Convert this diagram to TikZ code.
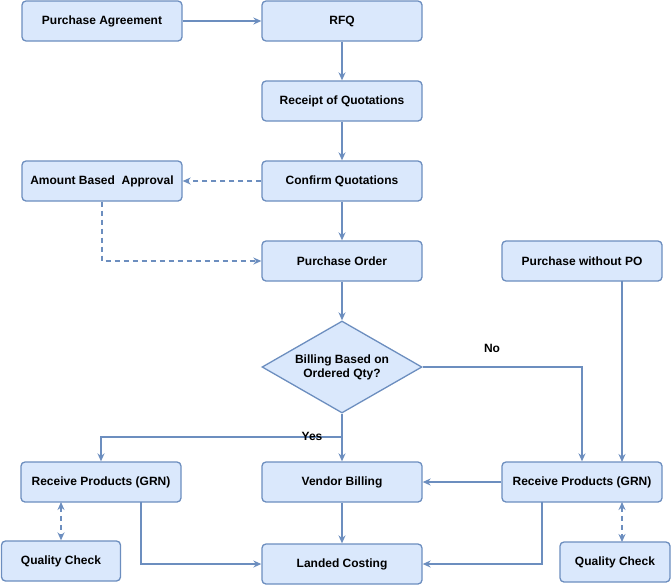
\documentclass[tikz,border=0pt]{standalone}
\usepackage{fontspec}
\setmainfont{Liberation Sans}
\usetikzlibrary{shapes.geometric,arrows.meta}
\definecolor{bfill}{HTML}{DAE8FC}
\definecolor{bline}{HTML}{6C8EBF}
\begin{document}
\begin{tikzpicture}[x=1pt,y=-1pt,
 box/.style={draw=bline,fill=bfill,line width=1.3pt,rounded corners=4pt,minimum width=160pt,minimum height=40pt,font=\fontsize{12}{14}\selectfont\bfseries,align=center,inner sep=0pt},
 arr/.style={draw=bline,line width=1.3pt,-{Stealth[length=8pt,width=7pt]}},
 dsh/.style={arr,dash pattern=on 5pt off 4pt},
 lbl/.style={font=\fontsize{12}{14}\selectfont\bfseries}]
\useasboundingbox (0,0) rectangle (671,584);
\node[box] (pa) at (102,21) {Purchase Agreement};
\node[box] (rfq) at (342,21) {RFQ};
\node[box] (rq) at (342,101) {Receipt of Quotations};
\node[box] (cq) at (342,181) {Confirm Quotations};
\node[box] (aba) at (102,181) {Amount Based\ \ Approval};
\node[box] (po) at (342,261) {Purchase Order};
\node[box] (pwp) at (582,261) {Purchase without PO};
\node[draw=bline,fill=bfill,line width=1.3pt,diamond,aspect=1.74,minimum width=160pt,minimum height=92pt,inner sep=0pt,align=center,font=\fontsize{12}{14}\selectfont\bfseries] (d) at (342,367) {Billing Based on\\Ordered Qty?};
\node[box] (rl) at (101,482) {Receive Products (GRN)};
\node[box] (vb) at (342,482) {Vendor Billing};
\node[box] (rr) at (582,482) {Receive Products (GRN)};
\node[box,minimum width=119pt] (ql) at (61,561) {Quality Check};
\node[box] (lc) at (342,564) {Landed Costing};
\node[box,minimum width=110pt] (qr) at (615,562) {Quality Check};
\draw[arr] (pa) -- (rfq);
\draw[arr] (rfq) -- (rq);
\draw[arr] (rq) -- (cq);
\draw[arr] (cq) -- (po);
\draw[arr] (po) -- (d);
\draw[dsh] (cq) -- (aba);
\draw[dsh] (aba.south) -- (102,261) -- (po.west);
\draw[arr] (d.east) -- (582,367) -- (rr.north);
\node[lbl] at (492,348) {No};
\draw[arr] (d.south) -- (vb.north);
\coordinate (yb) at (342,437);
\draw[arr] (yb) -- (101,437) -- (rl.north);
\node[lbl] at (312,436) {Yes};
\coordinate (pws) at (622,281);
\draw[arr] (pws) -- (622,462);
\draw[arr] (rr.west) -- (vb.east);
\draw[arr] (vb) -- (lc);
\draw[arr] (141,502) -- (141,564) -- (lc.west);
\draw[arr] (542,502) -- (542,564) -- (lc.east);
\draw[dsh,{Stealth[length=8pt,width=7pt]}-{Stealth[length=8pt,width=7pt]}] (61,502) -- (ql.north);
\draw[dsh,{Stealth[length=8pt,width=7pt]}-{Stealth[length=8pt,width=7pt]}] (622,502) -- (622,542);
\end{tikzpicture}
\end{document}
